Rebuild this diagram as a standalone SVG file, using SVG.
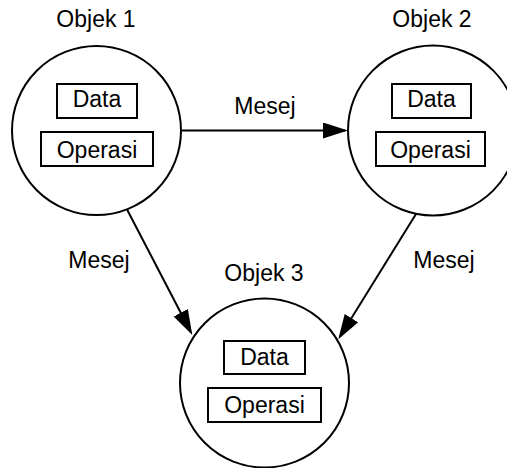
<svg xmlns="http://www.w3.org/2000/svg" width="507" height="468" viewBox="0 0 507 468">
<style>
.c{fill:#fff;stroke:#000;stroke-width:2}
.b{fill:#fff;stroke:#000;stroke-width:2}
.t{font-family:"Liberation Sans",Arial,sans-serif;font-size:23px;fill:#000;text-anchor:middle}
.l{stroke:#000;stroke-width:2;fill:none;marker-end:url(#ah)}
</style>
<defs>
<marker id="ah" markerUnits="userSpaceOnUse" markerWidth="26" markerHeight="18" refX="22" refY="8" orient="auto" viewBox="0 0 26 18">
<path d="M0,0 L25,8 L0,16 z" fill="#000"/>
</marker>
</defs>
<rect width="507" height="468" fill="#fff"/>
<g id="connectors">
<line class="l" x1="181" y1="130.5" x2="345" y2="130.5"/>
<line class="l" x1="127.3" y1="210" x2="190.9" y2="332.3"/>
<line class="l" x1="416" y1="214" x2="339.9" y2="336.8"/>
<text class="t" x="265" y="114">Mesej</text>
<text class="t" x="99" y="268">Mesej</text>
<text class="t" x="444" y="268">Mesej</text>
</g>
<g id="objek1">
<text class="t" x="96" y="27">Objek 1</text>
<circle class="c" cx="96.5" cy="130.5" r="84.5"/>
<rect class="b" x="57" y="84" width="80" height="34"/>
<text class="t" x="97" y="107">Data</text>
<rect class="b" x="41" y="132" width="112" height="34"/>
<text class="t" x="97" y="158">Operasi</text>
</g>
<g id="objek2">
<text class="t" x="432" y="27">Objek 2</text>
<circle class="c" cx="433" cy="130.5" r="85"/>
<rect class="b" x="392" y="84" width="79" height="34"/>
<text class="t" x="431.5" y="107">Data</text>
<rect class="b" x="376" y="132" width="109" height="34"/>
<text class="t" x="430.5" y="158">Operasi</text>
</g>
<g id="objek3">
<text class="t" x="264" y="281">Objek 3</text>
<circle class="c" cx="264.5" cy="383" r="84.5"/>
<rect class="b" x="224" y="341" width="81" height="33"/>
<text class="t" x="264.5" y="365">Data</text>
<rect class="b" x="208" y="388" width="113" height="34"/>
<text class="t" x="264.5" y="413">Operasi</text>
</g>
</svg>
